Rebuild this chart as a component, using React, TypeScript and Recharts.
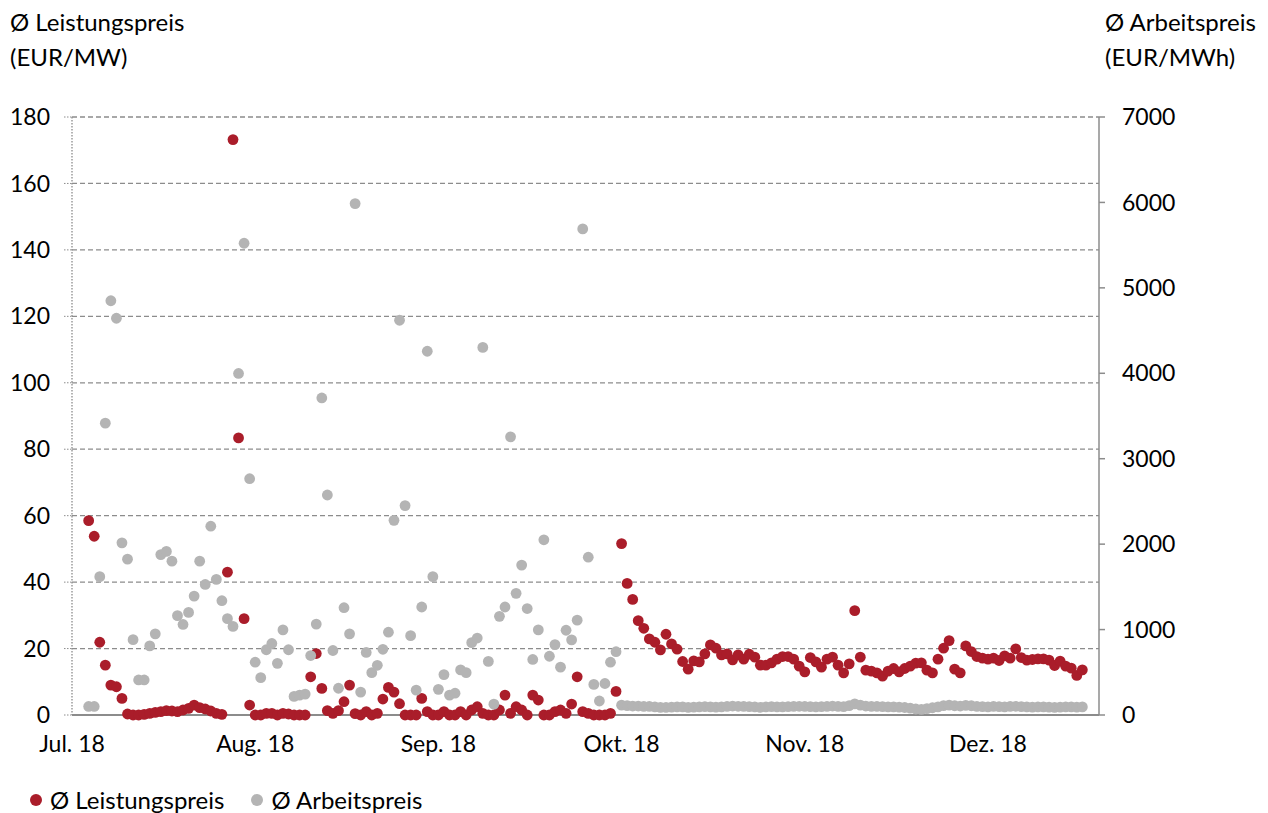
import React from "react";
import {
  ScatterChart,
  Scatter,
  XAxis,
  YAxis,
  CartesianGrid,
} from "recharts";

// values, one per day slot starting at slot 3
const FIRST_SLOT = 3;

const leistungspreis = [
  58.5, 53.8, 21.9, 15, 9, 8.5, 5,
  0.3, 0, 0, 0.2, 0.5, 0.8, 1, 1.3, 1.2, 1, 1.5, 2, 3, 2.2, 1.8, 1.2, 0.5, 0.2,
  43, 173.2, 83.4, 29, 3,
  0, 0, 0.5, 0.5, 0, 0.5, 0.3, 0, 0, 0,
  11.5, 18.5, 8, 1.3, 0.5, 1.3, 4, 9, 0.4,
  0, 1, 0, 0.5,
  4.8, 8.3, 6.9, 3.4,
  0, 0, 0,
  5, 1, 0, 0, 1, 0, 0, 1, 0, 1.5, 2.5,
  0.5, 0, 0, 1.5, 6, 0.5, 2.5, 1.5, 0, 6, 4.5, 0, 0, 1, 1.5, 0.5,
  3.3, 11.5, 1, 0.5, 0, 0, 0, 0.5, 7.1,
  51.6, 39.6, 34.8, 28.4, 26.1, 22.9, 21.9, 19.6, 24.3, 21.4,
  19.8, 16.1, 13.8, 16.3, 16, 18.4, 21.1, 20.1, 18.1, 18.4,
  16.6, 18.1, 16.8, 18.3, 17.4, 15, 15, 15.7, 16.8, 17.6,
  17.6, 16.8, 14.7, 13, 17.3, 16, 14.4, 16.8, 17.4, 15,
  12.7, 15.4, 31.4, 17.4, 13.5, 13.2, 12.7, 11.7, 13.2, 14,
  13, 14, 14.7, 15.6, 15.7, 13.5, 12.7, 16.8, 20.1, 22.4,
  13.8, 12.7, 20.8, 19.1, 17.6, 17.1, 16.8, 17.1, 16.4, 17.8,
  17.1, 19.9, 17.3, 16.5, 16.7, 16.9, 16.9, 16.5, 14.9, 16.2,
  14.7, 14.1, 11.9, 13.6,
];

const arbeitspreis = [
  100, 100,
  1619, 3416, 4849, 4644, 2015, 1824, 882, 410, 410, 809, 950, 1878, 1915, 1801,
  1163, 1060, 1201, 1392, 1801, 1528, 2210, 1587, 1338, 1128, 1037, 3998, 5522, 2766,
  618, 437, 764, 837, 605, 996, 764, 218, 233, 245,
  696, 1064, 3711, 2575, 755, 313, 1256, 950, 5986, 268,
  732, 496, 582, 769, 969, 2279, 4621, 2451, 929, 291,
  1264, 4258, 1619, 300, 473, 233, 255, 528, 496, 847,
  901, 4303, 627, 127, 1155, 1264, 3256, 1424, 1755, 1246,
  650, 996, 2051, 688, 824, 560, 992, 879, 1110, 5690,
  1847, 358, 164, 369, 618, 741,
  115, 110, 105, 105, 100, 100, 95, 90, 90, 92,
  95, 95, 90, 92, 95, 98, 95, 92, 95, 100,
  105, 102, 100, 98, 95, 90, 95, 98, 95, 95,
  98, 100, 102, 100, 98, 95, 98, 100, 105, 100,
  98, 110, 130, 115, 105, 100, 100, 98, 95, 95,
  92, 88, 80, 70, 65, 75, 85, 95, 110, 115,
  108, 105, 112, 108, 100, 98, 95, 100, 98, 95,
  100, 102, 98, 95, 92, 95, 95, 92, 90, 92,
  95, 95, 92, 95,
];

const monthLabels = ["Jul. 18", "Aug. 18", "Sep. 18", "Okt. 18", "Nov. 18", "Dez. 18"];
const monthTicks = [0, 33, 66, 99, 132, 165];
const leftTicks = [0, 20, 40, 60, 80, 100, 120, 140, 160, 180];
const rightTicks = [0, 1000, 2000, 3000, 4000, 5000, 6000, 7000];

const RED = "#AA1D2A";
const GREY = "#B4B4B4";
const AXIS = "#8C8C8C";
const FONT = "Lato, 'Open Sans', sans-serif";

const redData = leistungspreis.map((v, i) => ({ x: i + FIRST_SLOT, y: v }));
const greyData = arbeitspreis.map((v, i) => ({ x: i + FIRST_SLOT, y: v }));

const dot = (color: string) => (props: any) =>
  <circle cx={props.cx} cy={props.cy} r={5.4} fill={color} />;

const tickStyle = { fill: "#000", fontSize: 23, fontFamily: FONT };

export default function App() {
  return (
    <div
      style={{
        position: "absolute",
        left: 0,
        top: 0,
        width: 1268,
        height: 813,
        background: "#fff",
        fontFamily: FONT,
        color: "#000",
      }}
    >
      <div style={{ position: "absolute", left: 10, top: 4, fontSize: 24, lineHeight: "35px" }}>
        Ø Leistungspreis
        <br />
        (EUR/MW)
      </div>
      <div style={{ position: "absolute", left: 1105, top: 4, fontSize: 24, lineHeight: "35px" }}>
        Ø Arbeitspreis
        <br />
        (EUR/MWh)
      </div>

      <ScatterChart
        width={1268}
        height={813}
        margin={{ top: 117, right: 0, bottom: 38, left: 0 }}
      >
        <CartesianGrid
          yAxisId="left"
          horizontal
          vertical={false}
          stroke={AXIS}
          strokeDasharray="5 3"
          strokeWidth={1.3}
        />
        <XAxis
          type="number"
          dataKey="x"
          domain={[0, 185]}
          ticks={monthTicks}
          tickFormatter={(v: number) => monthLabels[monthTicks.indexOf(v)] ?? ""}
          axisLine={{ stroke: AXIS, strokeWidth: 2 }}
          tickLine={false}
          tick={tickStyle}
          tickMargin={15}
          height={60}
          interval={0}
        />
        <YAxis
          yAxisId="left"
          orientation="left"
          type="number"
          dataKey="y"
          domain={[0, 180]}
          ticks={leftTicks}
          width={72}
          axisLine={{ stroke: AXIS, strokeDasharray: "1.5 1.5", strokeWidth: 1.3 }}
          tickLine={{ stroke: AXIS, strokeDasharray: "1.5 1.5" }}
          tickSize={8}
          tickMargin={14}
          tick={tickStyle}
          interval={0}
        />
        <YAxis
          yAxisId="right"
          orientation="right"
          type="number"
          dataKey="y"
          domain={[0, 7000]}
          ticks={rightTicks}
          width={169}
          axisLine={{ stroke: AXIS, strokeWidth: 1.5 }}
          tickLine={{ stroke: AXIS, strokeWidth: 1.5 }}
          tickSize={6}
          tickMargin={17}
          tick={tickStyle}
          interval={0}
        />
        <Scatter
          name="Ø Leistungspreis"
          yAxisId="left"
          data={redData}
          fill={RED}
          shape={dot(RED)}
          isAnimationActive={false}
        />
        <Scatter
          name="Ø Arbeitspreis"
          yAxisId="right"
          data={greyData}
          fill={GREY}
          shape={dot(GREY)}
          isAnimationActive={false}
        />
      </ScatterChart>

      <div
        style={{
          position: "absolute",
          left: 30,
          top: 783,
          fontSize: 24,
          lineHeight: "34px",
          display: "flex",
          alignItems: "center",
          whiteSpace: "nowrap",
        }}
      >
        <span style={{ width: 12, height: 12, borderRadius: 6, background: RED, marginRight: 8 }} />
        <span>Ø Leistungspreis</span>
        <span style={{ width: 12, height: 12, borderRadius: 6, background: GREY, marginLeft: 27, marginRight: 8 }} />
        <span>Ø Arbeitspreis</span>
      </div>
    </div>
  );
}
